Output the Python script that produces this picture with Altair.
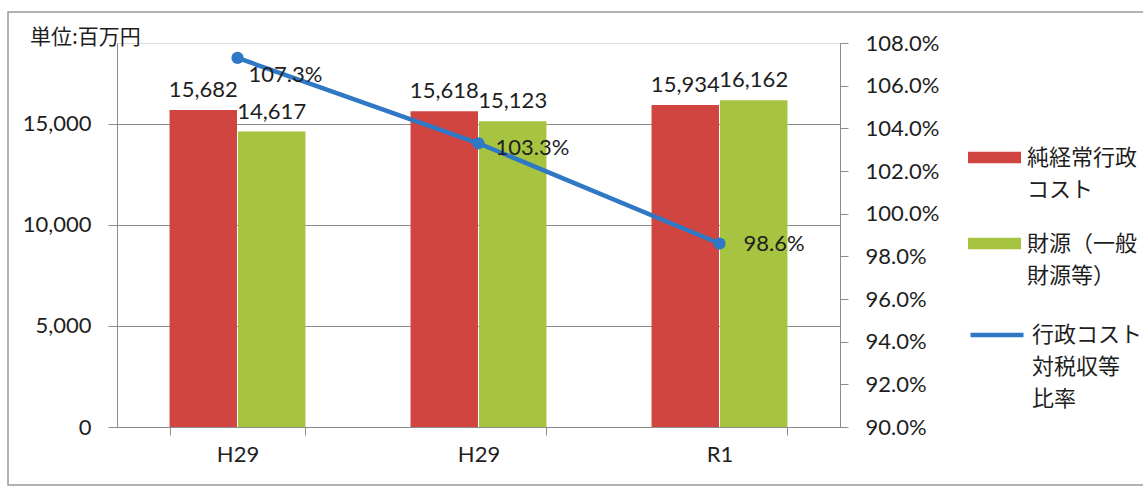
import json
import altair as alt
import pandas as pd

# 年度ラベル（同じ表記が続くため、位置はキーで区別する）
years = ["H29", "H29", "R1"]
cost = [15682, 15618, 15934]      # 純経常行政コスト（百万円）
revenue = [14617, 15123, 16162]   # 財源（一般財源等）（百万円）
ratio = [107.3, 103.3, 98.6]      # 行政コスト対税収等比率（%）

bar_names = ["純経常行政\nコスト", "財源（一般\n財源等）"]
line_name = "行政コスト\n対税収等\n比率"

RED = "#D0453F"
GREEN = "#A6C43F"
BLUE = "#2E78C5"
GRID = "#8C8C8C"
TXT = "#1E1E1E"
NUM_FONT = "Lato"
JP_FONT = "Noto Sans CJK JP"

keys = [str(i) for i in range(len(years))]
bars = pd.DataFrame(
    {
        "key": keys * 2,
        "series": [bar_names[0]] * len(keys) + [bar_names[1]] * len(keys),
        "value": cost + revenue,
    }
)
rates = pd.DataFrame({"key": keys, "rate": ratio, "name": [line_name] * len(keys)})

x_labels = f"{json.dumps(years)}[toNumber(datum.value)]"
x_enc = alt.X(
    "key:N",
    sort=keys,
    scale=alt.Scale(paddingInner=0.436, paddingOuter=0.218),
    axis=alt.Axis(
        title=None,
        labelExpr=x_labels,
        labelAngle=0,
        labelFont=NUM_FONT,
        labelFontSize=22,
        labelColor=TXT,
        labelPadding=9,
        tickBand="extent",
        tickSize=8,
        tickColor=GRID,
        domainColor=GRID,
        grid=False,
    ),
)

y_left = alt.Y(
    "value:Q",
    scale=alt.Scale(domain=[0, 19000], nice=False),
    axis=alt.Axis(
        title=None,
        orient="left",
        values=[0, 5000, 10000, 15000],
        format=",d",
        labelFont=NUM_FONT,
        labelFontSize=22,
        labelColor=TXT,
        labelPadding=17,
        tickSize=9,
        tickColor=GRID,
        domainColor=GRID,
        grid=True,
        gridColor=GRID,
        gridWidth=1.2,
    ),
)

bar_legend = alt.Legend(
    title=None,
    orient="none",
    legendX=851,
    legendY=88,
    padding=0,
    symbolType="M-1,-0.22H1V0.22H-1Z",
    symbolSize=2809,
    symbolStrokeWidth=0,
    labelExpr="split(datum.label, '\\n')",
    labelFont=JP_FONT,
    labelFontSize=22,
    labelColor=TXT,
    labelLimit=400,
    labelOffset=6,
    labelBaseline="middle",
    rowPadding=16,
)

bar_layer = alt.Chart(bars).mark_bar().encode(
    x=x_enc,
    xOffset=alt.XOffset("series:N", sort=bar_names, scale=alt.Scale(paddingInner=0.015)),
    y=y_left,
    color=alt.Color(
        "series:N",
        sort=bar_names,
        scale=alt.Scale(domain=bar_names, range=[RED, GREEN]),
        legend=bar_legend,
    ),
)

bar_text = alt.Chart(bars).mark_text(
    baseline="bottom", dy=-8, font=NUM_FONT, fontSize=22, color=TXT
).encode(
    x=alt.X("key:N", sort=keys),
    xOffset=alt.XOffset("series:N", sort=bar_names),
    y=alt.Y("value:Q"),
    text=alt.Text("value:Q", format=",d"),
)

left = alt.layer(bar_layer, bar_text)

y_right = alt.Y(
    "rate:Q",
    scale=alt.Scale(domain=[90, 108], nice=False),
    axis=alt.Axis(
        title=None,
        orient="right",
        values=[90, 92, 94, 96, 98, 100, 102, 104, 106, 108],
        labelExpr="format(datum.value, '.1f') + '%'",
        labelFont=NUM_FONT,
        labelFontSize=22,
        labelColor=TXT,
        labelPadding=17,
        tickSize=8,
        tickColor=GRID,
        domainColor=GRID,
        grid=False,
    ),
)

line_legend = alt.Legend(
    title=None,
    orient="none",
    legendX=851,
    legendY=263,
    padding=0,
    symbolType="stroke",
    symbolSize=2809,
    symbolStrokeWidth=4.5,
    labelExpr="split(datum.label, '\\n')",
    labelFont=JP_FONT,
    labelFontSize=22,
    labelColor=TXT,
    labelLimit=400,
    labelOffset=6,
    labelBaseline="middle",
)

line_layer = alt.Chart(rates).mark_line(strokeWidth=4.5).encode(
    x=alt.X("key:N", sort=keys),
    y=y_right,
    stroke=alt.Stroke(
        "name:N", scale=alt.Scale(domain=[line_name], range=[BLUE]), legend=line_legend
    ),
)

point_layer = alt.Chart(rates).mark_point(
    filled=True, size=150, color=BLUE, opacity=1
).encode(x=alt.X("key:N", sort=keys), y=alt.Y("rate:Q"))

# 比率ラベルは点ごとに置き方を変える
label_offsets = [(11, 17), (17, 5), (24, 0)]
rate_labels = [
    alt.Chart(rates)
    .transform_filter(alt.datum.key == k)
    .transform_calculate(lbl="format(datum.rate, '.1f') + '%'")
    .mark_text(align="left", baseline="middle", dx=dx, dy=dy, font=NUM_FONT, fontSize=22, color=TXT)
    .encode(
        x=alt.X("key:N", sort=keys),
        y=alt.Y("rate:Q"),
        text="lbl:N",
    )
    for k, (dx, dy) in zip(keys, label_offsets)
]

right = alt.layer(line_layer, point_layer, *rate_labels)

frame = alt.Chart(pd.DataFrame({"f": [0]})).mark_rect(
    fill="white", fillOpacity=0, stroke="#9A9A9A", strokeWidth=1.5
).encode(
    x=alt.value(-109), x2=alt.value(1040), y=alt.value(-31), y2=alt.value(442)
)

chart = (
    alt.layer(left, right, frame)
    .resolve_scale(y="independent", color="independent")
    .properties(
        width=723,
        height=384,
        autosize=alt.AutoSizeParams(type="none"),
        padding={"left": 117, "top": 43, "right": 303, "bottom": 61},
        title=alt.TitleParams(
            "単位:百万円",
            anchor="start",
            frame="group",
            dx=-87,
            dy=58,
            offset=0,
            baseline="bottom",
            font=JP_FONT,
            fontSize=21,
            fontWeight="normal",
            color=TXT,
        ),
        background="white",
    )
    .configure_view(strokeWidth=0)
    .configure(style={"guide-label": {"lineHeight": 32}})
)

chart.save("out.html", embed_options={"renderer": "svg", "actions": False})
